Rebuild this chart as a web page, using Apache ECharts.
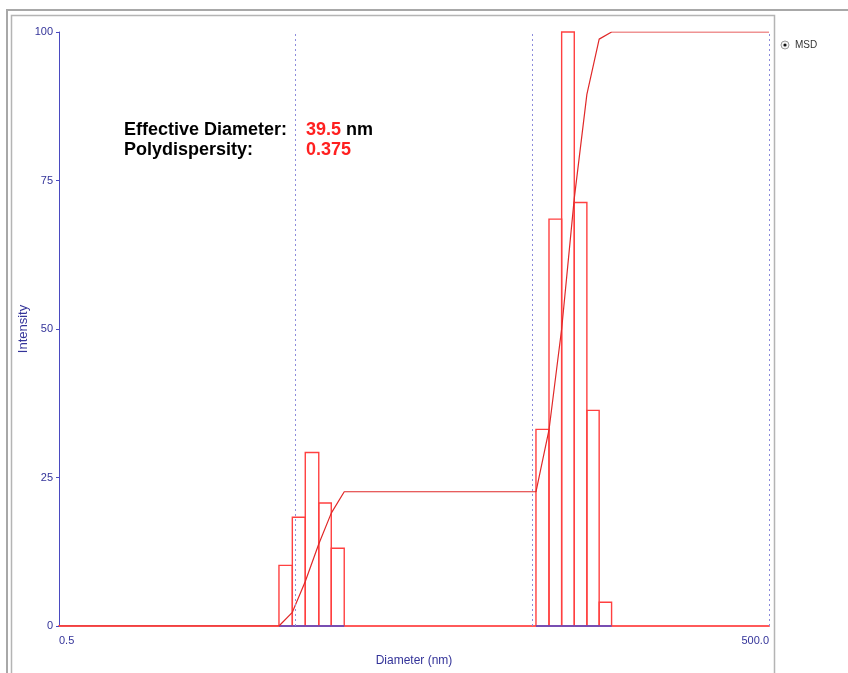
<!DOCTYPE html>
<html>
<head>
<meta charset="utf-8">
<script src="https://cdn.jsdelivr.net/npm/echarts@6/dist/echarts.min.js"></script>
<style>
html,body{margin:0;padding:0;background:#fff;}
#chart{width:848px;height:673px;}
</style>
</head>
<body>
<div id="chart"></div>
<script>
// ---- data ----
const binLeft   = [4.25, 4.84, 5.49, 6.26, 7.07, 51.8, 58.8, 66.5, 75.2, 85.0, 95.8];
const binRight  = [4.84, 5.49, 6.26, 7.07, 8.02, 58.8, 66.5, 75.2, 85.0, 95.8, 108.1];
const intensity = [10.2, 18.3, 29.2, 20.7, 13.1, 33.1, 68.5, 100, 71.3, 36.3, 4.0];

const cumDiameter  = [0.5, 4.25, 4.84, 5.49, 6.26, 7.07, 8.02, 51.8, 58.8, 66.5, 75.2, 85.0, 95.8, 108.1, 500];
const cumIntensity = [0, 0, 2.3, 7.5, 13.8, 19.0, 22.6, 22.6, 33, 50, 72, 89.5, 98.8, 100, 100];

const gridLines = [5, 50, 500];
const xTickValues = [0.5, 500];
const xTickLabels = ['0.5', '500.0'];
const yTicks = [0, 25, 50, 75, 100];

const seriesName = 'MSD';
const effDiameter = '39.5';
const polydispersity = '0.375';

// ---- build ----
const barData = binLeft.map((l, i) => [l, binRight[i], intensity[i]]);
const cumData = cumDiameter.map((d, i) => [d, cumIntensity[i]]);

const navy = '#333399';
const font = 'Liberation Sans, Arial, sans-serif';

const chart = echarts.init(document.getElementById('chart'), null, {renderer: 'canvas'});
chart.setOption({
  animation: false,
  backgroundColor: '#ffffff',
  grid: {left: 59, right: 79, top: 32, bottom: 47, containLabel: false},
  xAxis: {
    type: 'log',
    logBase: 10,
    min: 0.5,
    max: 500,
    name: 'Diameter (nm)',
    nameLocation: 'middle',
    nameGap: 29,
    nameMoveOverlap: false,
    nameTextStyle: {color: navy, fontSize: 12, fontFamily: font},
    axisLine: {show: true, lineStyle: {color: '#ff5a5a', width: 2}},
    axisTick: {show: false},
    splitLine: {show: false},
    minorTick: {show: false},
    axisLabel: {
      color: navy, fontSize: 11, fontFamily: font, margin: 9,
      showMinLabel: true, showMaxLabel: true,
      alignMinLabel: 'left', alignMaxLabel: 'right',
      formatter: function (v) {
        for (let i = 0; i < xTickValues.length; i++) {
          if (Math.abs(v - xTickValues[i]) / xTickValues[i] < 1e-6) return xTickLabels[i];
        }
        return '';
      }
    }
  },
  yAxis: {
    type: 'value',
    min: 0, max: 100, interval: 25,
    name: 'Intensity',
    nameLocation: 'middle',
    nameGap: 29,
    nameMoveOverlap: false,
    nameTextStyle: {color: navy, fontSize: 13, fontFamily: font},
    axisLine: {show: true, lineStyle: {color: '#4a4ac0', width: 1}},
    axisTick: {show: true, length: 3, lineStyle: {color: '#4a4ac0'}},
    splitLine: {show: false},
    axisLabel: {color: navy, fontSize: 11, fontFamily: font, margin: 6,
      formatter: v => yTicks.includes(v) ? String(v) : ''}
  },
  series: [
    {
      type: 'custom',
      name: 'bars',
      data: barData,
      encode: {x: [0, 1], y: 2},
      z: 3,
      renderItem: function (params, api) {
        const p0 = api.coord([api.value(0), 0]);
        const p1 = api.coord([api.value(1), api.value(2)]);
        return {
          type: 'group',
          children: [
            {
              type: 'polyline',
              shape: {points: [[p0[0], p0[1]], [p0[0], p1[1]], [p1[0], p1[1]], [p1[0], p0[1]]]},
              style: {stroke: '#ff4040', lineWidth: 1.4, fill: null}
            },
            {
              type: 'line',
              shape: {x1: p0[0], y1: p0[1], x2: p1[0], y2: p0[1]},
              style: {stroke: '#4b4bd0', lineWidth: 1.5},
              z2: 5
            }
          ]
        };
      }
    },
    {
      type: 'line',
      name: seriesName,
      data: cumData,
      showSymbol: false,
      symbol: 'none',
      z: 4,
      lineStyle: {color: '#e02828', width: 1.2},
      markLine: {
        silent: true,
        symbol: ['none', 'none'],
        label: {show: false},
        lineStyle: {color: '#8c8cdc', type: [2, 3], width: 1},
        data: gridLines.map(v => ({xAxis: v}))
      }
    }
  ],
  graphic: [
    {type: 'rect', shape: {x: 7, y: 10, width: 860, height: 720},
      style: {fill: null, stroke: '#a8a8a8', lineWidth: 2}, silent: true, z: -10},
    {type: 'rect', shape: {x: 11.5, y: 15.5, width: 763, height: 720},
      style: {fill: null, stroke: '#b4b4b4', lineWidth: 1.5}, silent: true, z: -10},
    {type: 'text', left: 124, top: 121,
      style: {text: 'Effective Diameter:', fill: '#000', font: 'bold 18px ' + font}},
    {type: 'text', left: 124, top: 141,
      style: {text: 'Polydispersity:', fill: '#000', font: 'bold 18px ' + font}},
    {type: 'text', left: 306, top: 121,
      style: {text: effDiameter, fill: '#ff2020', font: 'bold 18px ' + font}},
    {type: 'text', left: 346, top: 121,
      style: {text: 'nm', fill: '#000', font: 'bold 18px ' + font}},
    {type: 'text', left: 306, top: 141,
      style: {text: polydispersity, fill: '#ff2020', font: 'bold 18px ' + font}},
    {type: 'circle', shape: {cx: 785, cy: 45, r: 4},
      style: {fill: '#f4f4f4', stroke: '#9a9a9a', lineWidth: 1}},
    {type: 'circle', shape: {cx: 785, cy: 45, r: 1.6},
      style: {fill: '#111'}},
    {type: 'text', left: 795, top: 40,
      style: {text: seriesName, fill: '#333', font: '10px ' + font}}
  ]
});
</script>
</body>
</html>
